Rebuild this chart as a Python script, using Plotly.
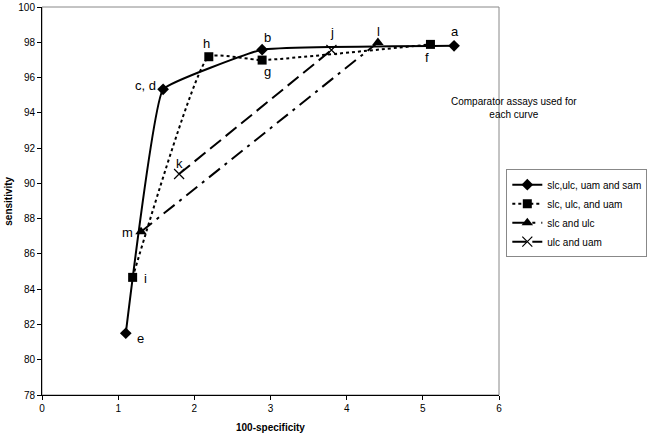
import plotly.graph_objects as go

# Data
s1_name = "slc,ulc, uam and sam"
s1_x = [1.10, 1.59, 2.89, 5.41]
s1_y = [81.5, 95.33, 97.58, 97.8]

s2_name = "slc, ulc, and uam"
s2_x = [1.19, 2.19, 2.89, 5.10]
s2_y = [84.67, 97.18, 96.99, 97.88]

s3_name = "slc and ulc"
s3_x = [1.30, 4.41]
s3_y = [87.26, 97.99]

s4_name = "ulc and uam"
s4_x = [1.80, 3.80]
s4_y = [90.53, 97.56]

point_labels = ["a", "f", "l", "j", "b", "g", "h", "c, d", "k", "m", "i", "e"]
label_x = [5.42, 5.05, 4.42, 3.81, 2.96, 2.96, 2.16, 1.36, 1.81, 1.12, 1.36, 1.29]
label_y = [98.6, 97.14, 98.6, 98.56, 98.25, 96.37, 97.94, 95.57, 91.1, 87.22, 84.6, 81.2]

x_ticks = [0, 1, 2, 3, 4, 5, 6]
y_ticks = list(range(78, 101, 2))

FONT = "Liberation Sans, Arial"

fig = go.Figure()
fig.add_trace(go.Scatter(x=s1_x, y=s1_y, name=s1_name, mode="lines+markers",
                         line=dict(color="black", width=2, shape="spline", smoothing=0.25),
                         marker=dict(symbol="diamond", size=9, color="black")))
fig.add_trace(go.Scatter(x=s2_x, y=s2_y, name=s2_name, mode="lines+markers",
                         line=dict(color="black", width=2, dash="dot", shape="spline", smoothing=0.4),
                         marker=dict(symbol="square", size=9, color="black")))
fig.add_trace(go.Scatter(x=s3_x, y=s3_y, name=s3_name, mode="lines+markers",
                         line=dict(color="black", width=2, dash="14px,6px,3px,6px"),
                         marker=dict(symbol="triangle-up", size=10, color="black")))
fig.add_trace(go.Scatter(x=s4_x, y=s4_y, name=s4_name, mode="lines+markers",
                         line=dict(color="black", width=2, dash="14px,6px"),
                         marker=dict(symbol="x-thin-open", size=10, color="black",
                                     line=dict(width=1.2, color="black"))))

for t, xx, yy in zip(point_labels, label_x, label_y):
    fig.add_annotation(x=xx, y=yy, text=t, showarrow=False,
                       font=dict(size=13, color="black", family=FONT))

fig.add_annotation(xref="paper", yref="paper", x=1.176, y=0.776,
                   text="Comparator assays used for<br>each curve", showarrow=False,
                   font=dict(size=10, color="black", family=FONT), align="center")

# axis titles
fig.add_annotation(xref="paper", yref="paper", x=0.5, y=-0.085, yanchor="middle",
                   text="<b>100-specificity</b>", showarrow=False,
                   font=dict(size=10, color="black", family=FONT))
fig.add_annotation(xref="paper", yref="paper", x=-0.075, y=0.5, xanchor="center",
                   text="<b>sensitivity</b>", showarrow=False, textangle=-90,
                   font=dict(size=10, color="black", family=FONT))

fig.update_layout(
    width=656, height=434,
    margin=dict(l=42, r=157, t=7, b=39, autoexpand=False),
    paper_bgcolor="white", plot_bgcolor="white",
    font=dict(family=FONT, color="black", size=10),
    showlegend=True,
    legend=dict(x=1.016, y=0.582, xanchor="left", yanchor="top",
                bordercolor="#888888", borderwidth=1, bgcolor="white",
                font=dict(size=10), tracegroupgap=0, itemwidth=30),
    xaxis=dict(range=[0, 6], tickvals=x_ticks, showgrid=False, zeroline=False,
               showline=True, linecolor="black", linewidth=1, automargin=False,
               ticks="outside", ticklen=4, tickcolor="black"),
    yaxis=dict(range=[78, 100], tickvals=y_ticks, showgrid=False, zeroline=False,
               showline=True, linecolor="black", linewidth=1, automargin=False,
               ticks="outside", ticklen=4, tickcolor="black"),
)
fig.add_shape(type="rect", xref="paper", yref="paper", x0=0, y0=0, x1=1, y1=1,
              line=dict(color="#888888", width=1), layer="below")

fig.write_html("out.html", config={"displayModeBar": False},
               post_script="document.body.style.margin='0';")
